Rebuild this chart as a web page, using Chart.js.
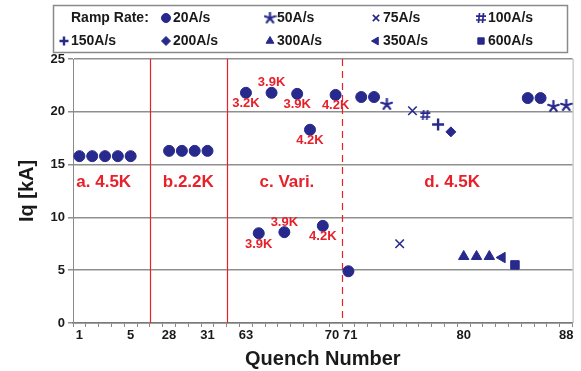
<!DOCTYPE html>
<html>
<head>
<meta charset="utf-8">
<script src="https://cdn.jsdelivr.net/npm/chart.js@4.4.0/dist/chart.umd.min.js"></script>
<style>
  html, body { margin: 0; padding: 0; background: #fff; }
  #wrap { width: 581px; height: 371px; }
</style>
</head>
<body>
<div id="wrap"><canvas id="quenchChart" width="581" height="371"></canvas></div>
<script>
// category slots on the x axis ('' = unlabeled gap between test series)
const quenchLabels = ['1', '2', '3', '4', '5', '', '', '28', '29', '30', '31', '', '',
    '63', '64', '65', '66', '67', '68', '69', '70', '71', '72', '73', '74', '75', '76',
    '77', '78', '79', '80', '81', '82', '83', '84', '85', '86', '87', '88'];
const shownTicks = ['1', '5', '28', '31', '63', '70', '71', '80', '88'];

// [quench number, Iq in kA] per ramp rate
const rate20 = [[1, 15.8], [2, 15.8], [3, 15.8], [4, 15.8], [5, 15.8],
    [28, 16.3], [29, 16.3], [30, 16.3], [31, 16.3],
    [63, 21.8], [64, 8.5], [65, 21.8], [66, 8.6], [67, 21.7], [68, 18.3], [69, 9.2], [70, 21.6],
    [71, 4.9], [72, 21.4], [73, 21.4], [85, 21.3], [86, 21.3]];
const rate50 = [[74, 20.7], [87, 20.5], [88, 20.6]];
const rate75 = [[75, 7.5], [76, 20.1]];
const rate100 = [[77, 19.7]];
const rate150 = [[78, 18.8]];
const rate200 = [[79, 18.1]];
const rate300 = [[80, 6.3], [81, 6.3], [82, 6.3]];
const rate350 = [[83, 6.2]];
const rate600 = [[84, 5.5]];

// temperature notes on the "c. Vari." quenches
const tempNotes = [[63, '3.2K', 'below'], [64, '3.9K', 'below'], [65, '3.9K', 'above'],
    [66, '3.9K', 'above'], [67, '3.9K', 'below'], [68, '4.2K', 'below'],
    [69, '4.2K', 'below'], [70, '4.2K', 'below']];
const sectionNames = ['a. 4.5K', 'b.2.2K', 'c. Vari.', 'd. 4.5K'];

const BLUE = '#27298c';
const RED = '#e8202a';
const FONT = '"Liberation Sans", Arial, sans-serif';

// '#' marker for 100A/s
function hashMark(color) {
    const c = document.createElement('canvas');
    c.width = 12; c.height = 12;
    const g = c.getContext('2d');
    g.strokeStyle = color;
    g.lineWidth = 1.7;
    g.beginPath();
    g.moveTo(4.5, 1); g.lineTo(3.5, 11);
    g.moveTo(8.5, 1); g.lineTo(7.5, 11);
    g.moveTo(1, 4.2); g.lineTo(11, 4.2);
    g.moveTo(1, 8); g.lineTo(11, 8);
    g.stroke();
    return c;
}

// five-armed asterisk marker for 50A/s
function asteriskMark(color, r) {
    const c = document.createElement('canvas');
    c.width = 2 * r + 2; c.height = 2 * r + 2;
    const g = c.getContext('2d');
    g.strokeStyle = color;
    g.lineWidth = 2.2;
    g.lineCap = 'round';
    g.beginPath();
    for (let k = 0; k < 5; k++) {
        const ang = -Math.PI / 2 + k * 2 * Math.PI / 5;
        g.moveTo(r + 1, r + 1);
        g.lineTo(r + 1 + Math.cos(ang) * r, r + 1 + Math.sin(ang) * r);
    }
    g.stroke();
    return c;
}

function toPoints(list) {
    return list.map(([q, v]) => ({ x: String(q), y: v }));
}

function series(label, data, style) {
    return Object.assign({
        label: label,
        data: toPoints(data),
        showLine: false,
        borderColor: BLUE,
        backgroundColor: BLUE,
        pointBorderColor: BLUE,
        pointBackgroundColor: BLUE,
        pointBorderWidth: 1,
        pointRadius: 5.5,
        pointHoverRadius: 5.5
    }, style);
}

const datasets = [
    series('20A/s', rate20, { pointStyle: 'circle' }),
    series('50A/s', rate50, { pointStyle: asteriskMark(BLUE, 5.5) }),
    series('75A/s', rate75, { pointStyle: 'crossRot', pointRadius: 6, pointBorderWidth: 1.6 }),
    series('100A/s', rate100, { pointStyle: hashMark(BLUE) }),
    series('150A/s', rate150, { pointStyle: 'cross', pointRadius: 6, pointBorderWidth: 2.4 }),
    series('200A/s', rate200, { pointStyle: 'rectRot', pointRadius: 5 }),
    series('300A/s', rate300, { pointStyle: 'triangle', pointRadius: 6 }),
    series('350A/s', rate350, { pointStyle: 'triangle', pointRadius: 6, pointRotation: -90 }),
    series('600A/s', rate600, { pointStyle: 'rect', pointRadius: 6 })
];

const decorations = {
    id: 'decorations',
    beforeDatasetsDraw(chart) {
        const { ctx, chartArea: a, scales: { x } } = chart;
        ctx.save();
        // right frame of plot
        ctx.strokeStyle = '#b5b5b5';
        ctx.lineWidth = 1;
        ctx.beginPath();
        ctx.moveTo(a.right + 0.5, a.top);
        ctx.lineTo(a.right + 0.5, a.bottom);
        ctx.stroke();
        // section separators, after quench 5, 31 and 70
        const breaks = [[quenchLabels.indexOf('5') + 1.5, []],
            [quenchLabels.indexOf('31') + 1.5, []],
            [quenchLabels.indexOf('70') + 0.5, [7, 5]]];
        ctx.strokeStyle = RED;
        ctx.lineWidth = 1.2;
        breaks.forEach(([pos, dash]) => {
            const px = Math.round(x.getPixelForValue(pos)) + 0.5;
            ctx.setLineDash(dash);
            ctx.beginPath();
            ctx.moveTo(px, a.top);
            ctx.lineTo(px, a.bottom);
            ctx.stroke();
        });
        ctx.restore();
    },
    afterDatasetsDraw(chart) {
        const { ctx, scales: { x, y } } = chart;
        ctx.save();
        ctx.fillStyle = RED;
        ctx.textAlign = 'center';
        ctx.textBaseline = 'middle';
        // section names
        ctx.font = 'bold 17px ' + FONT;
        const spots = [1.9, 8.5, 16.2, 29.1];
        sectionNames.forEach((t, i) => {
            ctx.fillText(t, x.getPixelForValue(spots[i]), y.getPixelForValue(13.3));
        });
        // temperature notes
        ctx.font = 'bold 13px ' + FONT;
        tempNotes.forEach(([q, t, where]) => {
            const pt = rate20.find(p => p[0] === q);
            const px = x.getPixelForValue(quenchLabels.indexOf(String(q)));
            const py = y.getPixelForValue(pt[1]) + (where === 'above' ? -10 : 11);
            ctx.fillText(t, px, py);
        });
        ctx.restore();
    },
    afterDraw(chart) {
        const { ctx } = chart;
        ctx.save();
        ctx.strokeStyle = '#8a8a8a';
        ctx.lineWidth = 1.5;
        ctx.strokeRect(53.5, 5.5, 514, 47);
        ctx.fillStyle = '#1a1a1a';
        ctx.font = 'bold 14px ' + FONT;
        ctx.textBaseline = 'middle';
        ctx.textAlign = 'left';
        const cols = [64, 166, 270, 376, 481];
        const rows = [18, 41];
        ctx.fillText('Ramp Rate:', 71, rows[0]);
        chart.data.datasets.forEach((ds, i) => {
            const slot = i + 1;
            const cx = cols[slot % 5];
            const cy = rows[Math.floor(slot / 5)];
            ctx.fillStyle = BLUE;
            ctx.strokeStyle = BLUE;
            ctx.lineWidth = ds.pointBorderWidth;
            Chart.helpers.drawPoint(ctx, {
                pointStyle: ds.pointStyle,
                radius: Math.min(ds.pointRadius, 5) - 0.5,
                rotation: ds.pointRotation || 0,
                borderWidth: ds.pointBorderWidth
            }, cx, cy);
            ctx.fillStyle = '#1a1a1a';
            ctx.fillText(ds.label, cx + 7, cy + 0.5);
        });
        ctx.restore();
    }
};

const ctx = document.getElementById('quenchChart').getContext('2d');

new Chart(ctx, {
    type: 'line',
    data: {
        labels: quenchLabels,
        datasets: datasets
    },
    options: {
        responsive: false,
        animation: false,
        devicePixelRatio: 1,
        layout: { padding: { top: 59, right: 8, left: 0, bottom: 0 } },
        scales: {
            x: {
                type: 'category',
                offset: true,
                afterFit: s => { s.height = 48; },
                grid: {
                    offset: true,
                    drawOnChartArea: false,
                    tickLength: 4,
                    color: '#8a8a8a'
                },
                border: { color: '#7a7a7a', width: 1.5 },
                ticks: {
                    autoSkip: false,
                    maxRotation: 0,
                    padding: 1,
                    color: '#1a1a1a',
                    font: { family: FONT, size: 13, weight: 'bold' },
                    callback: function (value) {
                        const lab = this.getLabelForValue(value);
                        if (!shownTicks.includes(lab)) return '';
                        // keep the neighbouring 70 / 71 labels apart
                        if (lab === '70') return '70  ';
                        if (lab === '71') return ' 71';
                        return lab;
                    }
                },
                title: {
                    display: true,
                    text: 'Quench Number',
                    color: '#1a1a1a',
                    padding: { top: 0, bottom: 0 },
                    font: { family: FONT, size: 20, weight: 'bold' }
                }
            },
            y: {
                min: 0,
                max: 25,
                afterFit: s => { s.width = 73; },
                grid: { color: '#8f8f8f', lineWidth: 1.5, tickLength: 5 },
                border: { color: '#8a8a8a', width: 1 },
                ticks: {
                    stepSize: 5,
                    padding: 3,
                    color: '#1a1a1a',
                    font: { family: FONT, size: 13, weight: 'bold' }
                },
                title: {
                    display: true,
                    text: 'Iq [kA]',
                    color: '#1a1a1a',
                    padding: { top: 15.5, bottom: 0 },
                    font: { family: FONT, size: 20, weight: 'bold' }
                }
            }
        },
        plugins: {
            legend: { display: false },
            tooltip: { enabled: false }
        }
    },
    plugins: [decorations]
});
</script>
</body>
</html>
